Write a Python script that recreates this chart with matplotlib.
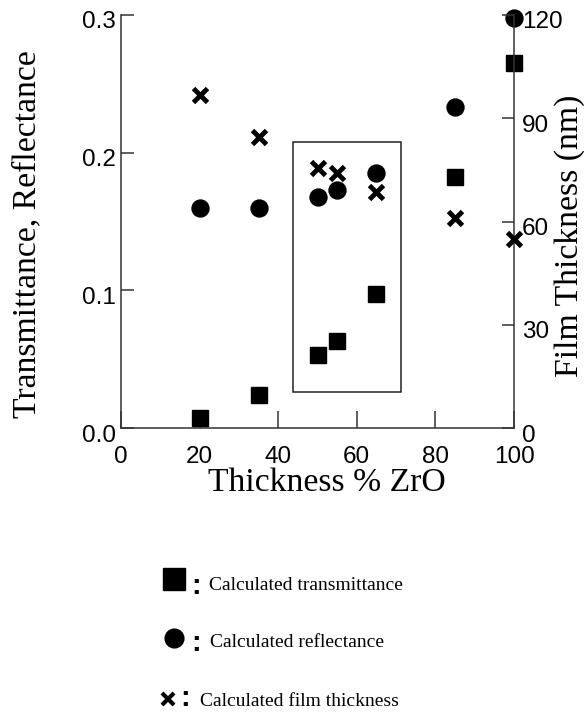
import matplotlib.pyplot as plt
import matplotlib.transforms as mtrans
from matplotlib.patches import Rectangle

# values
zro_pct = [20, 35, 50, 55, 65, 85, 100]
transmittance = [0.007, 0.024, 0.053, 0.063, 0.097, 0.182, 0.265]
reflectance = [0.160, 0.160, 0.168, 0.173, 0.185, 0.233, 0.298]
film_thickness = [96.7, 84.6, 75.6, 74.0, 68.7, 60.9, 55.0]

x_ticks = [0, 20, 40, 60, 80, 100]
left_ticks = [0.0, 0.1, 0.2, 0.3]
right_ticks = [0, 30, 60, 90, 120]

# highlighted region (x range, left-axis range)
box_x = [43.7, 71.2]
box_y = [0.0265, 0.2075]

legend_labels = ["Calculated transmittance", "Calculated reflectance",
                 "Calculated film thickness"]

sans = "Liberation Sans"
serif = "Liberation Serif"
tick_size = 17.5
label_size = 24.3

fig = plt.figure(figsize=(5.84, 7.16), dpi=100)
ax = fig.add_axes([121 / 584, 1 - 428 / 716, (514 - 121) / 584, (428 - 15) / 716])
ax2 = ax.twinx()

ax.set_xlim(0, 100)
ax.set_ylim(0, 0.3)
ax2.set_ylim(0, 120)

for s in ["top", "right"]:
    ax.spines[s].set_visible(False)
for s in ["top", "left", "bottom"]:
    ax2.spines[s].set_visible(False)
for a in (ax, ax2):
    for s in a.spines.values():
        s.set_linewidth(1.1)
        s.set_color("#333333")

ax.set_xticks(x_ticks)
ax.set_xticklabels([str(v) for v in x_ticks], family=sans, fontsize=tick_size)
ax.set_yticks(left_ticks)
ax.set_yticklabels(["%.1f" % v for v in left_ticks], family=sans, fontsize=tick_size)
ax2.set_yticks(right_ticks)
ax2.set_yticklabels([str(v) for v in right_ticks], family=sans, fontsize=tick_size)

ax.tick_params(axis="x", direction="in", length=12.5, width=1.1, pad=13, color="#333333")
ax.tick_params(axis="y", direction="in", length=9, width=1.1, pad=3.5, color="#333333")
ax2.tick_params(axis="y", direction="in", length=9, width=1.1, pad=5.5, color="#333333")

# y tick labels sit a little below their ticks in the reference
off = mtrans.ScaledTranslation(0, -5 / 100, fig.dpi_scale_trans)
for lab in ax.get_yticklabels() + ax2.get_yticklabels():
    lab.set_transform(lab.get_transform() + off)

ax.add_patch(Rectangle((box_x[0], box_y[0]), box_x[1] - box_x[0], box_y[1] - box_y[0],
                       fill=False, edgecolor="#222222", linewidth=1.1))

ax.plot(zro_pct, transmittance, "s", color="black", markersize=12.2, clip_on=False, zorder=5)
ax.plot(zro_pct, reflectance, "o", color="black", markersize=12.2, clip_on=False, zorder=5)
ax2.plot(zro_pct, film_thickness, "x", color="black", markersize=10, mew=3.5, clip_on=False, zorder=5)

fig.text(327 / 584, 1 - 483 / 716, "Thickness % ZrO", family=serif, fontsize=label_size,
         ha="center", va="center")
fig.text(27 / 584, 1 - 234 / 716, "Transmittance, Reflectance", family=serif,
         fontsize=label_size, rotation=90, ha="center", va="center")
fig.text(570 / 584, 1 - 236 / 716, "Film Thickness (nm)", family=serif,
         fontsize=label_size, rotation=90, ha="center", va="center")

# hand-made legend under the plot
leg_marks = [("s", 16, 0), ("o", 13.5, 0), ("x", 9, 3)]
leg_xy = [(174.3, 578.5), (174, 637.5), (168.3, 699)]
colon_x = [196, 196, 185]
colon_base = [594, 651, 705.5]
text_x = [209, 210, 199.5]
text_base = [590, 647, 706]
for (m, ms, mew), (mx, my), cx, cb, tx, tb, lab in zip(leg_marks, leg_xy, colon_x, colon_base,
                                                       text_x, text_base, legend_labels):
    fig.lines.append(plt.Line2D([mx / 584], [1 - my / 716], marker=m, markersize=ms,
                                mew=mew if mew else None, color="black",
                                transform=fig.transFigure, linestyle="none"))
    fig.text(cx / 584, 1 - cb / 716, ":", family=sans, fontsize=21, weight="bold",
             ha="center", va="baseline")
    fig.text(tx / 584, 1 - tb / 716, lab, family=serif, fontsize=14, ha="left",
             va="baseline")

fig.savefig("out.png", dpi=100)
